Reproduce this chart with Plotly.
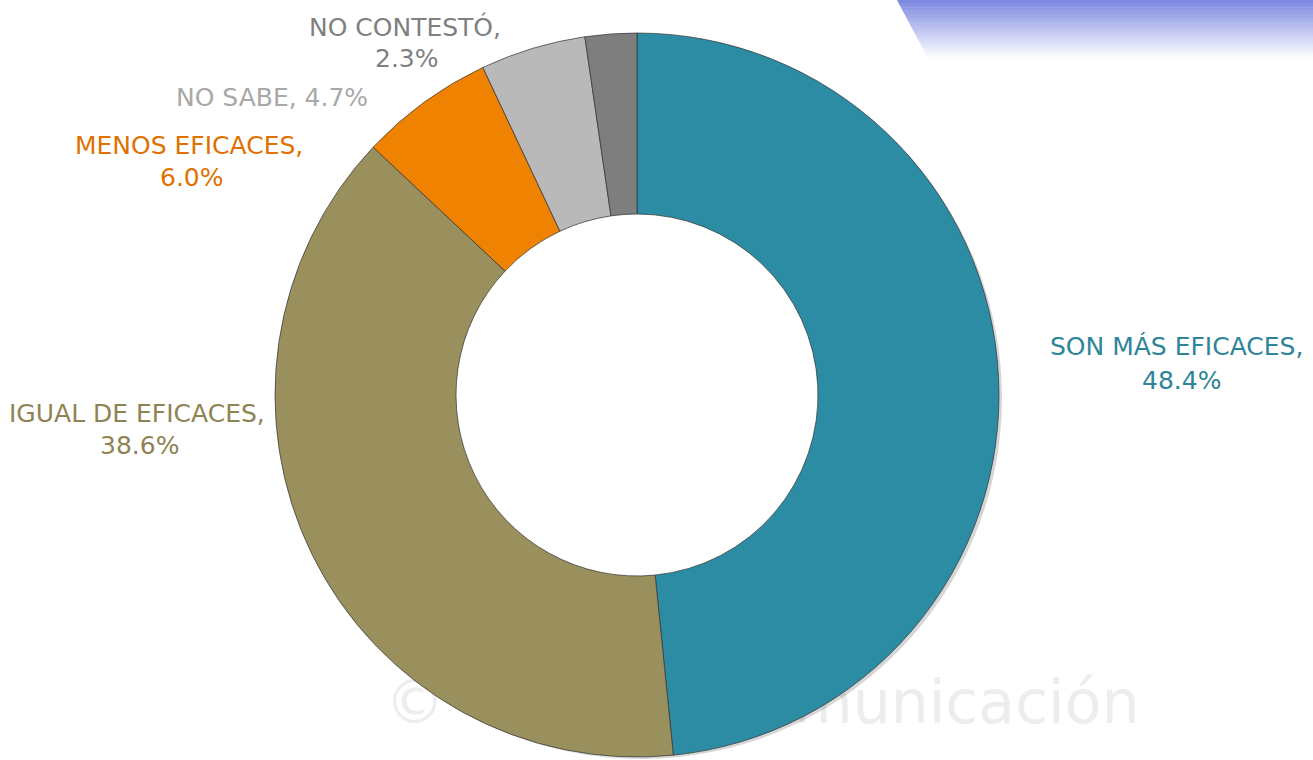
import plotly.graph_objects as go

categories = ["SON MÁS EFICACES", "IGUAL DE EFICACES", "MENOS EFICACES", "NO SABE", "NO CONTESTÓ"]
values = [48.4, 38.6, 6.0, 4.7, 2.3]
slice_colors = ["#2C8CA3", "#9A905E", "#EF8200", "#B9B9B9", "#7E7E7E"]
label_colors = ["#2E8599", "#8E8352", "#E07100", "#A8A8A8", "#808080"]

W, H = 1313, 760
cx, cy, R = 637, 395, 362
HOLE = 0.5

fig = go.Figure()

# faint watermark (behind the donut)
fig.add_trace(go.Scatter(
    x=[0.293, 0.545], y=[0.068, 0.068], mode="text",
    text=["©", "Comunicación"],
    textposition="middle right",
    textfont=dict(size=60, color="#EDEDED", family="DejaVu Sans"),
    hoverinfo="skip", showlegend=False, xaxis="x", yaxis="y"))

# soft drop shadow under the donut (kept out of the hole)
shx, shy, sr = 4, 3, R - 1
fig.add_trace(go.Pie(
    values=[sum(values)], hole=(R * HOLE + 6) / sr, sort=False, textinfo="none",
    hoverinfo="skip",
    marker=dict(colors=["rgba(0,0,0,0.16)"], line=dict(width=0)),
    domain=dict(x=[(cx - sr + shx) / W, (cx + sr + shx) / W],
                y=[max(0, (H - cy - sr - shy) / H), (H - cy + sr - shy) / H]),
    showlegend=False))

fig.add_trace(go.Pie(
    labels=categories, values=values, hole=HOLE, sort=False, direction="clockwise",
    rotation=0, textinfo="none", hoverinfo="label+percent",
    marker=dict(colors=slice_colors, line=dict(color="rgba(50,50,50,0.7)", width=1)),
    domain=dict(x=[(cx - R) / W, (cx + R) / W], y=[(H - cy - R) / H, (H - cy + R) / H]),
    showlegend=False))

# label positions (pixel centers of each text line)
label_pos = {
    "SON MÁS EFICACES": [(1176, 347), (1181, 380)],
    "IGUAL DE EFICACES": [(137, 413), (139, 445)],
    "MENOS EFICACES": [(189, 145), (192, 177)],
    "NO SABE": [(272, 97)],
    "NO CONTESTÓ": [(405, 27), (407, 58)],
}

annotations = []
for cat, val, col in zip(categories, values, label_colors):
    pos = label_pos[cat]
    if len(pos) == 2:
        lines = [f"{cat},", f"{val:.1f}%"]
    else:
        lines = [f"{cat}, {val:.1f}%"]
    for (px, py), txt in zip(pos, lines):
        annotations.append(dict(
            x=px / W, y=1 - py / H, xref="paper", yref="paper", text=txt,
            showarrow=False, xanchor="center", yanchor="middle",
            font=dict(size=25, color=col, family="Century Gothic, DejaVu Sans")))

# blue gradient banner in top-right corner
shapes = []
n = 40
top = (123, 136, 224)
for i in range(n):
    y0 = 58 * i / n
    y1 = 58 * (i + 1) / n + 0.6
    t = (i + 0.5) / n
    c = tuple(int(top[k] + (255 - top[k]) * t) for k in range(3))
    xl0 = 897 + (928 - 897) * (y0 / 58)
    xl1 = 897 + (928 - 897) * (y1 / 58)
    path = (f"M {xl0/W},{1-y0/H} L 1,{1-y0/H} L 1,{1-y1/H} "
            f"L {xl1/W},{1-y1/H} Z")
    shapes.append(dict(type="path", xref="paper", yref="paper", path=path,
                       fillcolor=f"rgb{c}", line=dict(width=0), layer="below"))

fig.update_layout(
    width=W, height=H,
    margin=dict(l=0, r=0, t=0, b=0),
    paper_bgcolor="white", plot_bgcolor="rgba(0,0,0,0)",
    xaxis=dict(visible=False, range=[0, 1], domain=[0.0, 1.0], fixedrange=True),
    yaxis=dict(visible=False, range=[0, 1], domain=[0.0, 1.0], fixedrange=True),
    annotations=annotations, shapes=shapes,
)

fig.write_html("out.html", config={"displayModeBar": False},
               post_script="document.body.style.margin='0';")
